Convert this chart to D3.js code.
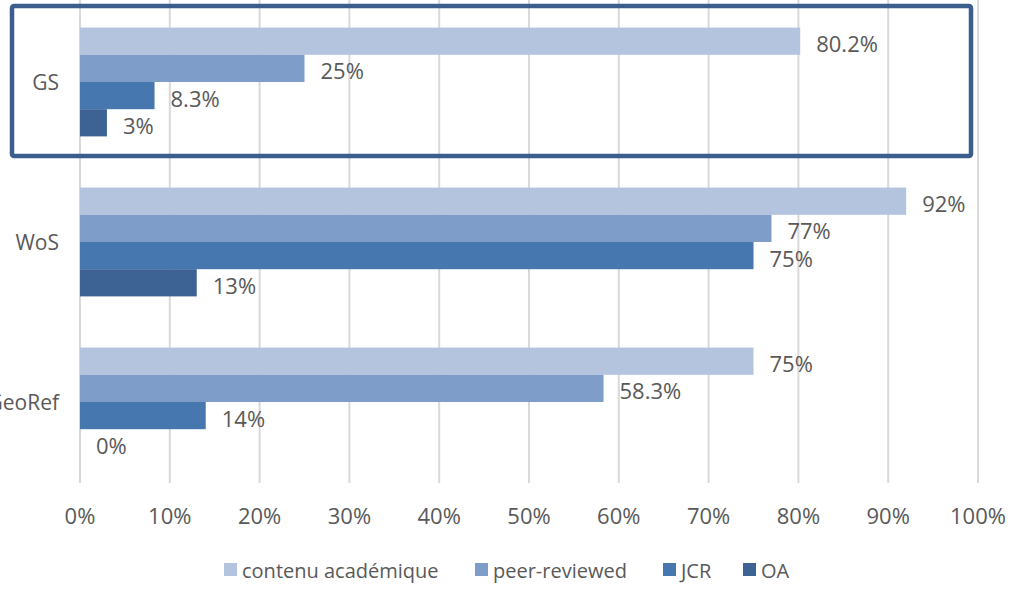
<!DOCTYPE html>
<html><head><meta charset="utf-8">
<script src="https://cdn.jsdelivr.net/npm/d3@7"></script>
<style>body{margin:0;background:#fff;} svg{display:block;} text{font-family:"Open Sans",sans-serif;fill:#595959;}</style>
</head><body>
<svg id="c" width="1016" height="605"></svg>
<script>
const categories = ["GS", "WoS", "GeoRef"];
const series = ["contenu académique", "peer-reviewed", "JCR", "OA"];
const contenu = [80.2, 92, 75];
const peer = [25, 77, 58.3];
const jcr = [8.3, 75, 14];
const oa = [3, 13, 0];
const valueLabels = [["80.2%","25%","8.3%","3%"],["92%","77%","75%","13%"],["75%","58.3%","14%","0%"]];
const ticks = [0,10,20,30,40,50,60,70,80,90,100];
const colors = ["#b4c4df", "#7f9dc9", "#4777af", "#3c6394"];

const values = [contenu, peer, jcr, oa];
const svg = d3.select("#c");
const x = d3.scaleLinear().domain([0,100]).range([80, 978]);
const y = d3.scaleBand().domain(categories).range([2, 482]).paddingInner(0.32).paddingOuter(0.16);
const ys = d3.scaleBand().domain(series).range([0, y.bandwidth()]);

// gridlines
svg.append("g").selectAll("line").data(ticks).join("line")
  .attr("x1", d => x(d)).attr("x2", d => x(d)).attr("y1", 0).attr("y2", 483)
  .attr("stroke", "#d9d9d9").attr("stroke-width", 2);

// tick labels
svg.append("g").selectAll("text").data(ticks).join("text")
  .attr("x", d => x(d)).attr("y", 524).attr("text-anchor", "middle")
  .style("font-size", "22px").text(d => d + "%");

// bars
categories.forEach((c, ci) => {
  const g = svg.append("g").attr("transform", `translate(0,${y(c)})`);
  series.forEach((s, si) => {
    const v = values[si][ci];
    g.append("rect").attr("x", x(0)).attr("y", ys(s)).attr("width", x(v) - x(0))
      .attr("height", ys.bandwidth()).attr("fill", colors[si]);
    g.append("text").attr("x", x(v) + 16).attr("y", ys(s) + ys.bandwidth()/2 + 2)
      .attr("dominant-baseline", "central").style("font-size", "22px").text(valueLabels[ci][si]);
  });
  svg.append("text").attr("x", 59).attr("y", y(c) + y.bandwidth()/2)
    .attr("text-anchor", "end").attr("dominant-baseline", "central")
    .style("font-size", "21px").text(c);
});

// highlight box
svg.append("rect").attr("x", 12).attr("y", 6).attr("width", 959).attr("height", 150)
  .attr("rx", 2).attr("fill", "none").attr("stroke", "#3b5e8c").attr("stroke-width", 4.5);

// legend
const legX = [224, 475, 663, 743];
const leg = svg.append("g");
series.forEach((s, i) => {
  leg.append("rect").attr("x", legX[i]).attr("y", 563).attr("width", 13).attr("height", 13).attr("fill", colors[i]);
  leg.append("text").attr("x", legX[i] + 18).attr("y", 570).attr("dominant-baseline", "central")
    .style("font-size", "20px").text(s);
});
</script>
</body></html>
